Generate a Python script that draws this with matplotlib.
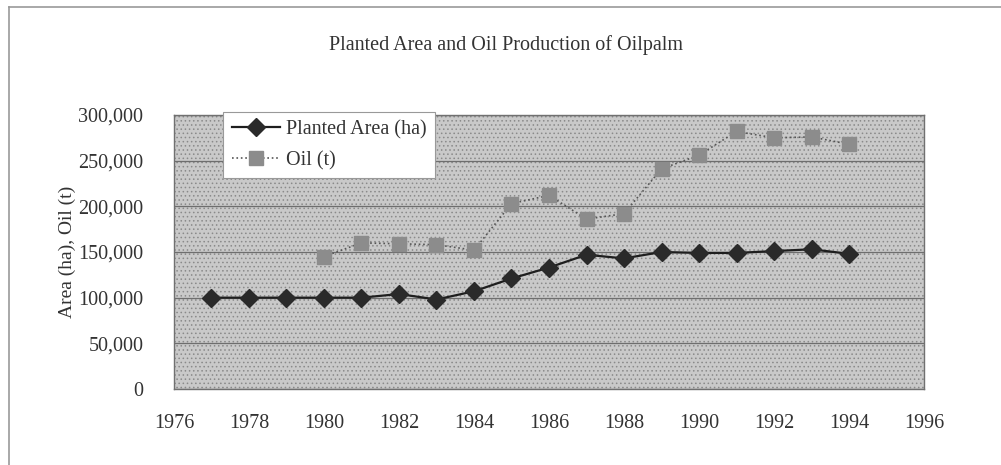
import numpy as np
import matplotlib.pyplot as plt
from matplotlib.patches import Rectangle
from matplotlib.lines import Line2D
from matplotlib.ticker import FuncFormatter

# =============================================================================
# data
# =============================================================================
area_years = np.arange(1977, 1995)
planted_area = [100000, 100000, 100000, 100000, 100000, 104000, 98000, 107000,
                121000, 133000, 147000, 143000, 150000, 149000, 149000,
                151000, 153000, 148000]

oil_years = np.arange(1980, 1995)
oil = [145000, 160000, 159000, 158000, 152000, 203000, 212000, 186000,
       192000, 241000, 256000, 282000, 275000, 276000, 268000]

x_ticks = np.arange(1976, 1997, 2)
y_ticks = np.arange(0, 300001, 50000)

plt.rcParams['font.family'] = ['Liberation Serif', 'DejaVu Serif']
plt.rcParams['hatch.linewidth'] = 0.6

fig = plt.figure(figsize=(10.01, 4.65), dpi=100)
fig.patch.set_facecolor('white')

# outer frame (top and left edges visible)
fig.add_artist(Line2D([0.009, 1.0], [0.985, 0.985], color='#999999', lw=1.2))
fig.add_artist(Line2D([0.009, 0.009], [0.0, 0.985], color='#999999', lw=1.2))

ax = fig.add_axes([0.1738, 0.1634, 0.7493, 0.5893])
ax.set_facecolor('#c9c9c9')
ax.add_patch(Rectangle((0, 0), 1, 1, transform=ax.transAxes, facecolor='none',
                       edgecolor='#8a8a8a', hatch='....', lw=0, zorder=0))

ax.set_xlim(1976, 1996)
ax.set_ylim(0, 300000)
ax.set_xticks(x_ticks)
ax.set_yticks(y_ticks)
ax.yaxis.set_major_formatter(FuncFormatter(lambda v, p: f"{int(v):,}"))
ax.tick_params(labelsize=14.5, colors='#333333', length=0)
ax.tick_params(axis='y', pad=22)
ax.tick_params(axis='x', pad=18)
ax.grid(axis='y', color='#6e6e6e', lw=0.9)
ax.set_axisbelow(True)
for s in ax.spines.values():
    s.set_color('#707070')
    s.set_linewidth(1.0)

ax.plot(area_years, planted_area, color='#1e1e1e', lw=1.6, marker='D',
        markersize=9, markerfacecolor='#2a2a2a', markeredgecolor='#2a2a2a',
        label='Planted Area (ha)', zorder=3)
ax.plot(oil_years, oil, color='#555555', lw=1.2, ls=':', marker='s',
        markersize=10, markerfacecolor='#8c8c8c', markeredgecolor='#8c8c8c',
        label='Oil (t)', zorder=3)

ax.set_ylabel('Area (ha), Oil (t)', fontsize=14, color='#333333', labelpad=2)

leg = ax.legend(loc='upper left', bbox_to_anchor=(0.066, 1.012), fontsize=14.5,
                frameon=True, fancybox=False, framealpha=1, edgecolor='#999999',
                handlelength=2.4, handletextpad=0.3, borderpad=0.4,
                labelspacing=0.6, borderaxespad=0)
leg.get_frame().set_linewidth(0.8)
for t in leg.get_texts():
    t.set_color('#333333')

fig.text(0.505, 0.903, 'Planted Area and Oil Production of Oilpalm',
         ha='center', va='center', fontsize=14.5, color='#333333')

fig.savefig('out.png', dpi=100)
